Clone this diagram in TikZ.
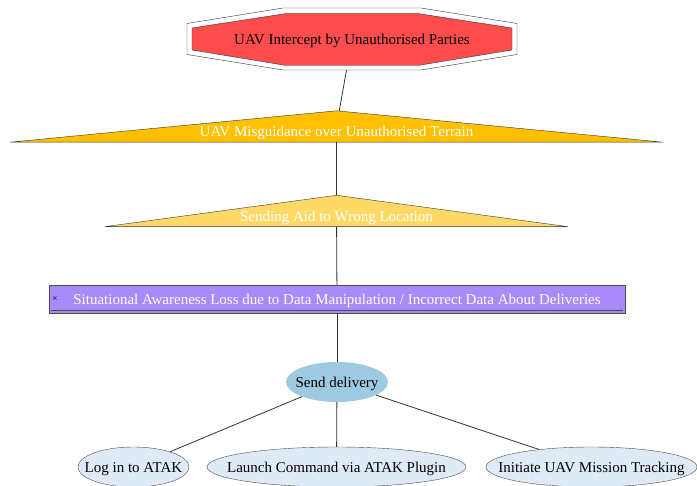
\documentclass[tikz,border=0pt]{standalone}
\usepackage{fontspec}
\setmainfont{Liberation Serif}
\usetikzlibrary{shapes.geometric,backgrounds}

\definecolor{interceptred}{HTML}{FF4D4D}
\definecolor{misorange}{HTML}{FFC000}
\definecolor{aidyellow}{HTML}{FFD966}
\definecolor{sapurple}{HTML}{A78BFA}
\definecolor{sendblue}{HTML}{9ECAE1}
\definecolor{leafblue}{HTML}{DEEBF7}

\begin{document}
\begin{tikzpicture}[
        x=1pt, y=-1pt,
        every node/.style = {font=\fontsize{15}{18}\selectfont, text height=12pt, text depth=1pt},
        box/.style  = {rectangle, inner sep=0pt},
        tri/.style  = {box, text=white, text height=26pt, text depth=5pt},
        act/.style  = {ellipse, draw=black!70, fill=leafblue, minimum height=40pt,
                       inner xsep=-25pt, inner ysep=0pt},
        link/.style = {draw=black!80, line width=0.8pt}
    ]
        \useasboundingbox (0,0) rectangle (697,486);

        % goal and sub-goals
        \node[box, minimum width=330pt, minimum height=62pt] (intercept) at (352,39)
            {UAV Intercept by Unauthorised Parties};
        \node[tri, minimum width=653pt] (misguide) at (336.5,126.5)
            {UAV Misguidance over Unauthorised Terrain};
        \node[tri, minimum width=463pt] (sending) at (336.5,211)
            {Sending Aid to Wrong Location};
        \node[box, draw=black!70, fill=sapurple, text=white, minimum width=576pt,
              minimum height=28pt] (situational) at (337,299)
            {Situational Awareness Loss due to Data Manipulation / Incorrect Data About Deliveries};
        \node[font=\fontsize{9}{9}\selectfont, text height=, text depth=] (cross) at (55,299) {×};

        % actions
        \node[act, draw=none, fill=sendblue, minimum width=102pt] (send) at (337,382) {Send delivery};
        \node[act, minimum width=111pt] (login)    at (133.5,467) {Log in to ATAK};
        \node[act, minimum width=259pt] (launch)   at (336.5,467) {Launch Command via ATAK Plugin};
        \node[act, minimum width=211pt] (tracking) at (591.5,467) {Initiate UAV Mission Tracking};

        % shapes behind the text
        \begin{scope}[on background layer]
            \begin{scope}[shift={(intercept.center)}]
                \draw[black!80, fill=white] (-69,-31) -- (69,-31) -- (165,-15.5) -- (165,15.5)
                    -- (69,31) -- (-69,31) -- (-165,15.5) -- (-165,-15.5) -- cycle;
                \draw[black!80, fill=interceptred] (-65.5,-25.5) -- (65.5,-25.5) -- (160,-11) -- (160,11)
                    -- (65.5,26.5) -- (-65.5,26.5) -- (-160,11) -- (-160,-11) -- cycle;
            \end{scope}
            \draw[black!80, fill=misorange] (misguide.south west) -- (misguide.north)
                -- (misguide.south east) -- cycle;
            \draw[black!80, fill=aidyellow] (sending.south west) -- (sending.north)
                -- (sending.south east) -- cycle;
        \end{scope}
        \draw[black!70] ([shift={(2,-3)}]situational.south west) -- ([shift={(-2,-3)}]situational.south east);

        \draw[link] (intercept) -- (misguide);
        \draw[link] (misguide) -- (sending);
        \draw[link] (sending) -- (situational);
        \draw[link] (situational) -- (send);
        \draw[link] (send) -- (login);
        \draw[link] (send) -- (launch);
        \draw[link] (send) -- (tracking);
    \end{tikzpicture}
\end{document}
